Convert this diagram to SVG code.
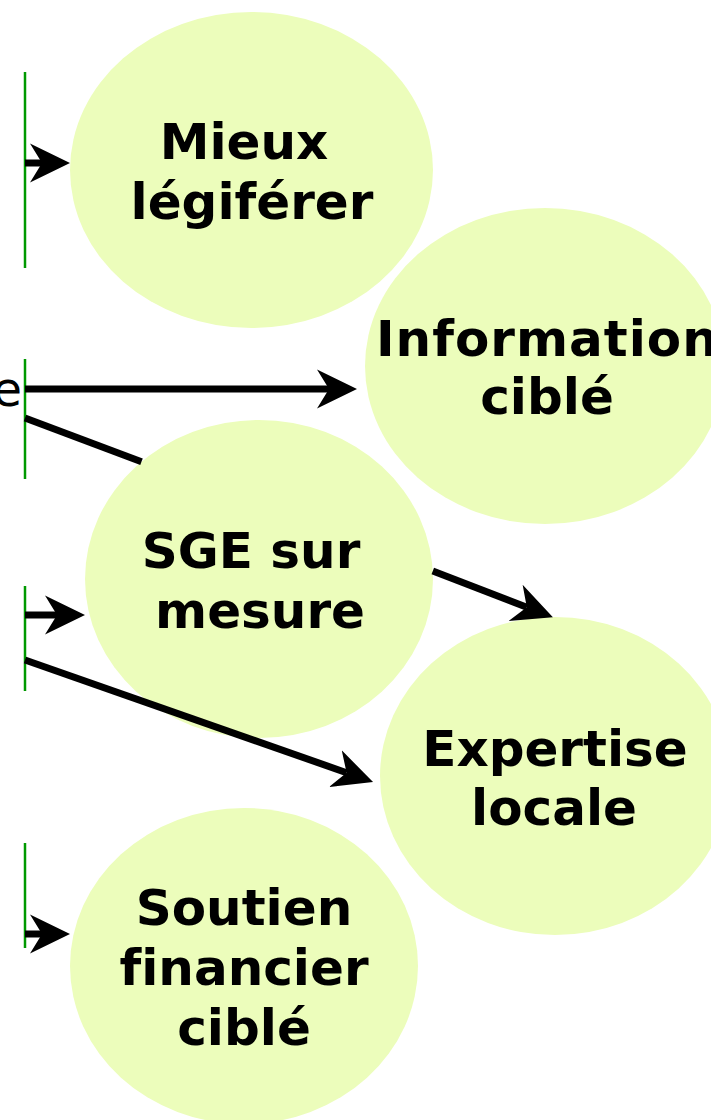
<svg xmlns="http://www.w3.org/2000/svg" width="711" height="1120" viewBox="0 0 711 1120">
<defs>
<marker id="arr" viewBox="-40 -20 40 40" refX="-28" refY="0" markerWidth="40" markerHeight="40" markerUnits="userSpaceOnUse" orient="auto">
<path d="M0,0 L-40,-19.5 L-28,0 L-40,19.5 Z" fill="#000"/>
</marker>
</defs>
<style>
.node ellipse{fill:#ECFDBB;stroke:none}
.lbl{font-family:"DejaVu Sans",Verdana,sans-serif;font-weight:bold;font-size:50px;fill:#000;text-anchor:middle;font-variant-ligatures:none}
.bar{stroke:#009900;stroke-width:2.5}
.conn line{stroke:#000;stroke-width:7}
.conn line.a{marker-end:url(#arr)}
.src{font-family:"DejaVu Sans",Verdana,sans-serif;font-size:48px;fill:#000;text-anchor:end}
</style>
<rect width="711" height="1120" fill="#fff"/>
<g id="sources">
<line class="bar" x1="25" y1="72" x2="25" y2="268"/>
<line class="bar" x1="25" y1="359" x2="25" y2="479"/>
<line class="bar" x1="25" y1="586" x2="25" y2="691"/>
<line class="bar" x1="25" y1="843" x2="25" y2="948"/>
<text class="src" x="22" y="406">e</text>
</g>
<g id="mieux" class="node">
<ellipse cx="251.5" cy="170" rx="181.5" ry="158"/>
<text class="lbl" x="244" y="159">Mieux</text>
<text class="lbl" x="252" y="219">légiférer</text>
</g>
<g id="information" class="node">
<ellipse cx="545" cy="366" rx="180" ry="158"/>
<text class="lbl" x="376" y="356" style="text-anchor:start" letter-spacing="1">Information</text>
<text class="lbl" x="547" y="414">ciblé</text>
</g>
<g id="sge" class="node">
<ellipse cx="259" cy="579" rx="174" ry="159"/>
<text class="lbl" x="251" y="568">SGE sur</text>
<text class="lbl" x="260" y="628">mesure</text>
</g>
<g id="expertise" class="node">
<ellipse cx="555" cy="776" rx="175" ry="159"/>
<text class="lbl" x="555" y="766">Expertise</text>
<text class="lbl" x="554" y="825">locale</text>
</g>
<g id="soutien" class="node">
<ellipse cx="244" cy="966" rx="174" ry="158"/>
<text class="lbl" x="244" y="925">Soutien</text>
<text class="lbl" x="244" y="985">financier</text>
<text class="lbl" x="244" y="1045">ciblé</text>
</g>
<g id="connectors" class="conn">
<line class="a" x1="25" y1="163" x2="42" y2="163"/>
<line class="a" x1="25" y1="389" x2="329" y2="389"/>
<line x1="25" y1="418" x2="141.5" y2="461.7"/>
<line class="a" x1="432.8" y1="570.9" x2="526.8" y2="607.2"/>
<line class="a" x1="25" y1="615" x2="57" y2="615"/>
<line class="a" x1="25" y1="660" x2="346.6" y2="772.7"/>
<line class="a" x1="25" y1="934" x2="42" y2="934"/>
</g>
</svg>
